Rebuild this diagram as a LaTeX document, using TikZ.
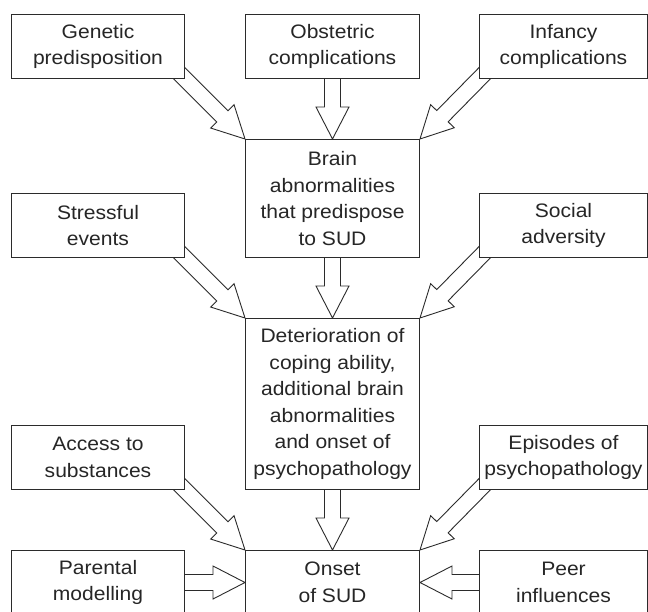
\documentclass[tikz,border=0pt]{standalone}
\usepackage{fontspec}
\newfontfamily\boxfont[FakeStretch=1.08]{Liberation Sans}
\usetikzlibrary{calc}
\definecolor{linegray}{HTML}{2B2B2B}
\definecolor{textgray}{HTML}{262626}
\pgfdeclarelayer{bg}
\pgfsetlayers{bg,main}
\newcommand{\blockarrow}[2]{%
  \coordinate (ba-s) at ($(#1)!-20pt!(#2)$);
  \coordinate (ba-t) at (#2);
  \coordinate (ba-h) at ($(ba-t)!32pt!(ba-s)$);
  \draw[barrow] ($(ba-s)!8pt!90:(ba-t)$) -- ($(ba-h)!8pt!-90:(ba-s)$) -- ($(ba-h)!16.5pt!-90:(ba-s)$) -- (ba-t) -- ($(ba-h)!16.5pt!90:(ba-s)$) -- ($(ba-h)!8pt!90:(ba-s)$) -- ($(ba-s)!8pt!-90:(ba-t)$) -- cycle;
}
\begin{document}
\begin{tikzpicture}[x=1pt,y=1pt,
  box/.style={draw=linegray, line width=1pt, fill=white, anchor=north west, inner sep=0pt,
    align=center, text=textgray, font=\boxfont\fontsize{19.5}{26.6}\selectfont},
  barrow/.style={draw=linegray, line width=0.9pt, fill=white, line join=miter}]
\useasboundingbox (0,0) rectangle (648,-611);
% row 1
\node[box, minimum width=173, minimum height=64] (gen) at (11,-14) {Genetic\\predisposition};
\node[box, minimum width=174, minimum height=64] (obs) at (245,-14) {Obstetric\\complications};
\node[box, minimum width=168, minimum height=64] (inf) at (479,-14) {Infancy\\complications};
% row 2
\node[box, minimum width=174, minimum height=118] (brain) at (245,-139) {Brain\\abnormalities\\that predispose\\to SUD};
\node[box, minimum width=173, minimum height=64] (str) at (11,-193) {Stressful\\events};
\node[box, minimum width=168, minimum height=64] (soc) at (479,-193) {Social\\adversity};
% row 3
\node[box, minimum width=174, minimum height=171] (det) at (245,-318) {Deterioration of\\coping ability,\\additional brain\\abnormalities\\and onset of\\psychopathology};
\node[box, minimum width=173, minimum height=64] (acc) at (11,-425) {Access to\\substances};
\node[box, minimum width=168, minimum height=64] (epi) at (479,-425) {Episodes of\\psychopathology};
% row 4
\node[box, minimum width=174, minimum height=64] (ons) at (245,-550) {Onset\\of SUD};
\node[box, minimum width=173, minimum height=64] (par) at (11,-550) {Parental\\modelling};
\node[box, minimum width=168, minimum height=64] (peer) at (479,-550) {Peer\\influences};
\begin{pgfonlayer}{bg}
\fill[white] (0,0) rectangle (648,-611);
\blockarrow{gen.south east}{brain.north west}
\blockarrow{obs.south}{brain.north}
\blockarrow{inf.south west}{brain.north east}
\blockarrow{str.south east}{det.north west}
\blockarrow{brain.south}{det.north}
\blockarrow{soc.south west}{det.north east}
\blockarrow{acc.south east}{ons.north west}
\blockarrow{det.south}{ons.north}
\blockarrow{epi.south west}{ons.north east}
\blockarrow{par.east}{ons.west}
\blockarrow{peer.west}{ons.east}
\end{pgfonlayer}
\end{tikzpicture}
\end{document}
